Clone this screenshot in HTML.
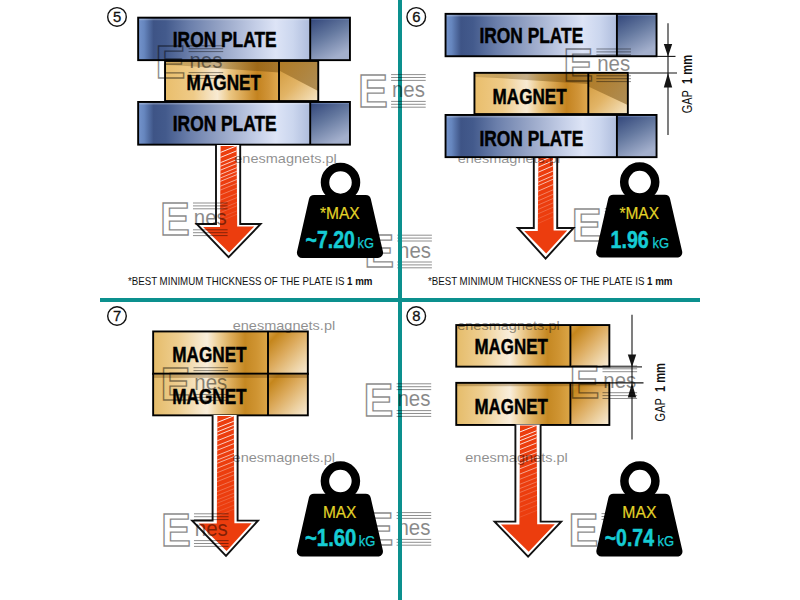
<!DOCTYPE html>
<html lang="en"><head><meta charset="utf-8"><title>Magnet pull force – iron plate and gap comparison</title>
<style>
html,body{margin:0;padding:0;background:#fff}
body{width:800px;height:600px;overflow:hidden}
svg{display:block;font-family:"Liberation Sans",sans-serif}
</style></head>
<body>
<svg width="800" height="600" viewBox="0 0 800 600">
<rect width="800" height="600" fill="#fff"/>

<defs>
<linearGradient id="ironG" x1="0" y1="0" x2="1" y2="0">
 <stop offset="0" stop-color="#7594cc"/>
 <stop offset="0.035" stop-color="#6686be"/>
 <stop offset="0.09" stop-color="#3e5486"/>
 <stop offset="0.16" stop-color="#435a8c"/>
 <stop offset="0.30" stop-color="#6b7fab"/>
 <stop offset="0.50" stop-color="#9aa8c9"/>
 <stop offset="0.68" stop-color="#c3cde6"/>
 <stop offset="0.80" stop-color="#dde4f6"/>
 <stop offset="0.90" stop-color="#cbd6ee"/>
 <stop offset="1" stop-color="#aebcdc"/>
</linearGradient>
<linearGradient id="ironS" x1="0" y1="0" x2="0.5" y2="1">
 <stop offset="0" stop-color="#2f4378"/>
 <stop offset="0.5" stop-color="#64789f"/>
 <stop offset="1" stop-color="#a3afcc"/>
</linearGradient>
<linearGradient id="goldG" x1="0" y1="0" x2="1" y2="0">
 <stop offset="0" stop-color="#e9be6c"/>
 <stop offset="0.25" stop-color="#efcb88"/>
 <stop offset="0.40" stop-color="#f5e2c0"/>
 <stop offset="0.46" stop-color="#f8ead2"/>
 <stop offset="0.57" stop-color="#ebc682"/>
 <stop offset="0.69" stop-color="#d9a550"/>
 <stop offset="0.81" stop-color="#c4831f"/>
 <stop offset="0.91" stop-color="#d09438"/>
 <stop offset="1" stop-color="#e0aa50"/>
</linearGradient>
<linearGradient id="goldS" x1="0" y1="0" x2="1" y2="1">
 <stop offset="0" stop-color="#cf9636"/>
 <stop offset="0.5" stop-color="#e2b466"/>
 <stop offset="1" stop-color="#f6e6c6"/>
</linearGradient>
<linearGradient id="gold2" x1="0" y1="0" x2="1" y2="0">
 <stop offset="0" stop-color="#e5bc6a"/>
 <stop offset="0.22" stop-color="#eece90"/>
 <stop offset="0.40" stop-color="#f6e6c8"/>
 <stop offset="0.47" stop-color="#f9eedb"/>
 <stop offset="0.56" stop-color="#efd29c"/>
 <stop offset="0.68" stop-color="#dcab58"/>
 <stop offset="0.80" stop-color="#c58822"/>
 <stop offset="0.90" stop-color="#cf9432"/>
 <stop offset="1" stop-color="#dca648"/>
</linearGradient>
<linearGradient id="gold2S" x1="0" y1="0" x2="1" y2="1">
 <stop offset="0" stop-color="#d8a24a"/>
 <stop offset="0.15" stop-color="#c5861c"/>
 <stop offset="0.45" stop-color="#dcaa5c"/>
 <stop offset="0.75" stop-color="#ecd0a0"/>
 <stop offset="1" stop-color="#f8ecd8"/>
</linearGradient>
<linearGradient id="shade" x1="0" y1="0" x2="1" y2="0">
 <stop offset="0" stop-color="#6a4a10" stop-opacity="0.18"/>
 <stop offset="0.2" stop-color="#6a4a10" stop-opacity="0.30"/>
 <stop offset="1" stop-color="#7a5010" stop-opacity="0.55"/>
</linearGradient>
<linearGradient id="shadeS" x1="0" y1="0" x2="1" y2="0.6">
 <stop offset="0" stop-color="#b07a24" stop-opacity="0.95"/>
 <stop offset="1" stop-color="#a88448" stop-opacity="0.9"/>
</linearGradient>
</defs>

<path d="M533.80,155.00 L533.80,228.00 L517.80,228.00 L545.60,258.60 L573.60,228.00 L557.20,228.00 L557.20,155.00" fill="#fff" stroke="#111" stroke-width="1.9" stroke-linejoin="miter"/><clipPath id="a6"><path d="M538.40,156.00 L537.80,231.00 L524.20,231.00 L546.20,253.52 L567.20,230.60 L553.60,230.60 L553.00,156.00Z"/></clipPath><path d="M538.40,156.00 L537.80,231.00 L524.20,231.00 L546.20,253.52 L567.20,230.60 L553.60,230.60 L553.00,156.00Z" fill="#ec3d0e"/><g clip-path="url(#a6)"><line x1="536.4" y1="163.2" x2="555.6" y2="154.8" stroke="#fff" stroke-opacity="0.90" stroke-width="1.0"/><line x1="536.4" y1="168.0" x2="555.6" y2="159.6" stroke="#fff" stroke-opacity="0.85" stroke-width="1.0"/><line x1="536.4" y1="173.0" x2="555.6" y2="164.6" stroke="#fff" stroke-opacity="0.79" stroke-width="1.0"/><line x1="536.4" y1="178.3" x2="555.6" y2="169.9" stroke="#fff" stroke-opacity="0.73" stroke-width="1.0"/><line x1="536.4" y1="182.9" x2="555.6" y2="174.5" stroke="#fff" stroke-opacity="0.67" stroke-width="1.0"/><line x1="536.4" y1="186.5" x2="555.6" y2="178.1" stroke="#fff" stroke-opacity="0.63" stroke-width="1.0"/><line x1="536.4" y1="191.9" x2="555.6" y2="183.5" stroke="#fff" stroke-opacity="0.57" stroke-width="1.0"/><line x1="536.4" y1="197.1" x2="555.6" y2="188.7" stroke="#fff" stroke-opacity="0.51" stroke-width="0.7"/><line x1="536.4" y1="201.6" x2="555.6" y2="193.2" stroke="#fff" stroke-opacity="0.46" stroke-width="0.7"/><line x1="536.4" y1="205.8" x2="555.6" y2="197.4" stroke="#fff" stroke-opacity="0.41" stroke-width="0.7"/><line x1="536.4" y1="210.2" x2="555.6" y2="201.8" stroke="#fff" stroke-opacity="0.36" stroke-width="0.7"/><line x1="536.4" y1="214.5" x2="555.6" y2="206.1" stroke="#fff" stroke-opacity="0.31" stroke-width="0.7"/><line x1="536.4" y1="219.4" x2="555.6" y2="211.0" stroke="#fff" stroke-opacity="0.25" stroke-width="0.7"/><line x1="536.4" y1="224.2" x2="555.6" y2="215.8" stroke="#fff" stroke-opacity="0.19" stroke-width="0.7"/></g>
<text x="457.70" y="162.80" class="wm" font-size="12.6" textLength="102.5" lengthAdjust="spacingAndGlyphs" fill="#000" opacity="0.44">enesmagnets.pl</text>
<rect x="165.05" y="60.95" width="113.95" height="40.10" fill="url(#goldG)"/><rect x="279.00" y="60.95" width="39.25" height="40.10" fill="url(#goldS)"/><path d="M165.2,61 L279,61 L279,72.5 L187,66 L165.2,65 Z" fill="url(#shade)"/><path d="M279,61 L318.1,61 L318.1,91 L279,70.5 Z" fill="url(#shadeS)"/><rect x="165.05" y="60.95" width="153.20" height="40.10" fill="none" stroke="#000" stroke-width="1.9"/><line x1="279.00" y1="60.95" x2="279.00" y2="101.05" stroke="#000" stroke-width="1.9"/>
<rect x="138.15" y="17.65" width="172.05" height="42.50" fill="url(#ironG)"/><rect x="310.20" y="17.65" width="39.75" height="42.50" fill="url(#ironS)"/><rect x="139.10" y="18.60" width="170.15" height="1.6" fill="#fff" fill-opacity="0.26"/><rect x="311.15" y="18.60" width="37.85" height="1.2" fill="#9fb6e6" fill-opacity="0.35"/><rect x="138.15" y="17.65" width="211.80" height="42.50" fill="none" stroke="#000" stroke-width="1.9"/><line x1="310.20" y1="17.65" x2="310.20" y2="60.15" stroke="#000" stroke-width="1.9"/>
<rect x="138.15" y="101.95" width="172.05" height="42.70" fill="url(#ironG)"/><rect x="310.20" y="101.95" width="39.75" height="42.70" fill="url(#ironS)"/><rect x="139.10" y="102.90" width="170.15" height="1.6" fill="#fff" fill-opacity="0.26"/><rect x="311.15" y="102.90" width="37.85" height="1.2" fill="#9fb6e6" fill-opacity="0.35"/><rect x="138.15" y="101.95" width="211.80" height="42.70" fill="none" stroke="#000" stroke-width="1.9"/><line x1="310.20" y1="101.95" x2="310.20" y2="144.65" stroke="#000" stroke-width="1.9"/>
<text x="172.80" y="46.90" font-size="21.2" font-weight="700" textLength="103.80" lengthAdjust="spacingAndGlyphs" fill="#000" stroke="#000" stroke-width="0.45">IRON PLATE</text>
<text x="186.60" y="90.00" font-size="21.2" font-weight="700" textLength="74.40" lengthAdjust="spacingAndGlyphs" fill="#000" stroke="#000" stroke-width="0.45">MAGNET</text>
<text x="172.80" y="131.00" font-size="21.2" font-weight="700" textLength="103.80" lengthAdjust="spacingAndGlyphs" fill="#000" stroke="#000" stroke-width="0.45">IRON PLATE</text>
<path d="M216.00,145.00 L216.00,224.00 L196.70,224.00 L228.60,257.20 L260.60,224.00 L240.20,224.00 L240.20,145.00" fill="#fff" stroke="#111" stroke-width="1.9" stroke-linejoin="miter"/><clipPath id="a5"><path d="M220.60,146.00 L220.00,227.00 L203.10,227.00 L229.20,252.48 L254.20,226.60 L237.20,226.60 L236.60,146.00Z"/></clipPath><path d="M220.60,146.00 L220.00,227.00 L203.10,227.00 L229.20,252.48 L254.20,226.60 L237.20,226.60 L236.60,146.00Z" fill="#ec3d0e"/><g clip-path="url(#a5)"><line x1="218.6" y1="153.2" x2="239.2" y2="144.8" stroke="#fff" stroke-opacity="0.91" stroke-width="1.0"/><line x1="218.6" y1="158.2" x2="239.2" y2="149.8" stroke="#fff" stroke-opacity="0.85" stroke-width="1.0"/><line x1="218.6" y1="163.4" x2="239.2" y2="155.0" stroke="#fff" stroke-opacity="0.80" stroke-width="1.0"/><line x1="218.6" y1="167.0" x2="239.2" y2="158.6" stroke="#fff" stroke-opacity="0.76" stroke-width="1.0"/><line x1="218.6" y1="170.9" x2="239.2" y2="162.5" stroke="#fff" stroke-opacity="0.72" stroke-width="1.0"/><line x1="218.6" y1="175.1" x2="239.2" y2="166.7" stroke="#fff" stroke-opacity="0.67" stroke-width="1.0"/><line x1="218.6" y1="178.7" x2="239.2" y2="170.3" stroke="#fff" stroke-opacity="0.63" stroke-width="1.0"/><line x1="218.6" y1="182.1" x2="239.2" y2="173.7" stroke="#fff" stroke-opacity="0.60" stroke-width="1.0"/><line x1="218.6" y1="186.9" x2="239.2" y2="178.5" stroke="#fff" stroke-opacity="0.54" stroke-width="1.0"/><line x1="218.6" y1="190.8" x2="239.2" y2="182.4" stroke="#fff" stroke-opacity="0.50" stroke-width="0.7"/><line x1="218.6" y1="195.7" x2="239.2" y2="187.3" stroke="#fff" stroke-opacity="0.45" stroke-width="0.7"/><line x1="218.6" y1="200.9" x2="239.2" y2="192.5" stroke="#fff" stroke-opacity="0.39" stroke-width="0.7"/><line x1="218.6" y1="205.1" x2="239.2" y2="196.7" stroke="#fff" stroke-opacity="0.35" stroke-width="0.7"/><line x1="218.6" y1="209.9" x2="239.2" y2="201.5" stroke="#fff" stroke-opacity="0.30" stroke-width="0.7"/><line x1="218.6" y1="213.3" x2="239.2" y2="204.9" stroke="#fff" stroke-opacity="0.26" stroke-width="0.7"/><line x1="218.6" y1="218.3" x2="239.2" y2="209.9" stroke="#fff" stroke-opacity="0.21" stroke-width="0.7"/><line x1="218.6" y1="221.8" x2="239.2" y2="213.4" stroke="#fff" stroke-opacity="0.18" stroke-width="0.7"/></g>
<text x="127.90" y="285.10" font-size="11" textLength="244.6" lengthAdjust="spacingAndGlyphs" fill="#111">*BEST MINIMUM THICKNESS OF THE PLATE IS <tspan font-weight="700">1 mm</tspan></text>
<circle cx="117.0" cy="16.9" r="9.3" fill="#fff" stroke="#111" stroke-width="1.4"/><text x="117.0" y="22.25" font-size="14.8" text-anchor="middle" fill="#111" stroke="#111" stroke-width="0.3">5</text>
<rect x="474.45" y="72.85" width="113.85" height="41.20" fill="url(#goldG)"/><rect x="588.30" y="72.85" width="39.55" height="41.20" fill="url(#goldS)"/><path d="M474.6,73 L588.3,73 L588.3,84 L497,78 L474.6,77 Z" fill="url(#shade)"/><path d="M588.3,73 L627.7,73 L627.7,105 L588.3,86.5 Z" fill="url(#shadeS)"/><rect x="474.45" y="72.85" width="153.40" height="41.20" fill="none" stroke="#000" stroke-width="1.9"/><line x1="588.30" y1="72.85" x2="588.30" y2="114.05" stroke="#000" stroke-width="1.9"/>
<rect x="445.55" y="13.85" width="171.35" height="42.40" fill="url(#ironG)"/><rect x="616.90" y="13.85" width="39.65" height="42.40" fill="url(#ironS)"/><rect x="446.50" y="14.80" width="169.45" height="1.6" fill="#fff" fill-opacity="0.26"/><rect x="617.85" y="14.80" width="37.75" height="1.2" fill="#9fb6e6" fill-opacity="0.35"/><rect x="445.55" y="13.85" width="211.00" height="42.40" fill="none" stroke="#000" stroke-width="1.9"/><line x1="616.90" y1="13.85" x2="616.90" y2="56.25" stroke="#000" stroke-width="1.9"/>
<rect x="445.55" y="114.95" width="171.35" height="42.20" fill="url(#ironG)"/><rect x="616.90" y="114.95" width="39.65" height="42.20" fill="url(#ironS)"/><rect x="446.50" y="115.90" width="169.45" height="1.6" fill="#fff" fill-opacity="0.26"/><rect x="617.85" y="115.90" width="37.75" height="1.2" fill="#9fb6e6" fill-opacity="0.35"/><rect x="445.55" y="114.95" width="211.00" height="42.20" fill="none" stroke="#000" stroke-width="1.9"/><line x1="616.90" y1="114.95" x2="616.90" y2="157.15" stroke="#000" stroke-width="1.9"/>
<text x="479.50" y="43.10" font-size="21.2" font-weight="700" textLength="103.70" lengthAdjust="spacingAndGlyphs" fill="#000" stroke="#000" stroke-width="0.45">IRON PLATE</text>
<text x="492.60" y="103.50" font-size="21.2" font-weight="700" textLength="74.00" lengthAdjust="spacingAndGlyphs" fill="#000" stroke="#000" stroke-width="0.45">MAGNET</text>
<text x="479.50" y="145.90" font-size="21.2" font-weight="700" textLength="103.70" lengthAdjust="spacingAndGlyphs" fill="#000" stroke="#000" stroke-width="0.45">IRON PLATE</text>
<line x1="668" y1="23.3" x2="668" y2="135" stroke="#151515" stroke-width="1.1"/><line x1="657" y1="56.4" x2="675.5" y2="56.4" stroke="#151515" stroke-width="1.1"/><line x1="629" y1="73" x2="677.0" y2="73" stroke="#151515" stroke-width="1.1"/><path d="M663.8,43.9 L672.2,43.9 L668,56.4 Z" fill="#151515"/><path d="M663.8,87.5 L672.2,87.5 L668,73 Z" fill="#151515"/><g transform="translate(692.0,113.3) rotate(-90)" font-size="14.4" fill="#111"><text x="0" y="0" textLength="23.2" lengthAdjust="spacingAndGlyphs">GAP</text><text x="29.3" y="0" font-weight="700" textLength="29" lengthAdjust="spacingAndGlyphs">1 mm</text></g>
<rect x="153.15" y="331.45" width="114.85" height="42.50" fill="url(#gold2)"/><rect x="268.00" y="331.45" width="39.85" height="42.50" fill="url(#gold2S)"/><rect x="153.15" y="331.45" width="154.70" height="42.50" fill="none" stroke="#000" stroke-width="1.9"/><line x1="268.00" y1="331.45" x2="268.00" y2="373.95" stroke="#000" stroke-width="1.9"/>
<rect x="153.15" y="373.65" width="114.85" height="41.70" fill="url(#gold2)"/><rect x="268.00" y="373.65" width="39.85" height="41.70" fill="url(#gold2S)"/><rect x="153.3" y="374.7" width="154.4" height="3.2" fill="#6a4208" fill-opacity="0.32"/><rect x="153.15" y="373.65" width="154.70" height="41.70" fill="none" stroke="#000" stroke-width="1.9"/><line x1="268.00" y1="373.65" x2="268.00" y2="415.35" stroke="#000" stroke-width="1.9"/>
<path d="M212.60,415.00 L212.60,520.60 L192.20,520.60 L226.00,555.90 L258.00,520.60 L237.60,520.60 L237.60,415.00" fill="#fff" stroke="#111" stroke-width="1.9" stroke-linejoin="miter"/><clipPath id="a7"><path d="M217.40,416.00 L216.80,523.60 L198.60,523.60 L226.60,550.91 L251.60,523.20 L234.40,523.20 L233.80,416.00Z"/></clipPath><path d="M217.40,416.00 L216.80,523.60 L198.60,523.60 L226.60,550.91 L251.60,523.20 L234.40,523.20 L233.80,416.00Z" fill="#ec3d0e"/><g clip-path="url(#a7)"><line x1="215.4" y1="423.2" x2="236.4" y2="414.8" stroke="#fff" stroke-opacity="0.92" stroke-width="1.0"/><line x1="215.4" y1="428.6" x2="236.4" y2="420.2" stroke="#fff" stroke-opacity="0.87" stroke-width="1.0"/><line x1="215.4" y1="432.6" x2="236.4" y2="424.2" stroke="#fff" stroke-opacity="0.84" stroke-width="1.0"/><line x1="215.4" y1="436.1" x2="236.4" y2="427.7" stroke="#fff" stroke-opacity="0.81" stroke-width="1.0"/><line x1="215.4" y1="441.5" x2="236.4" y2="433.1" stroke="#fff" stroke-opacity="0.77" stroke-width="1.0"/><line x1="215.4" y1="446.4" x2="236.4" y2="438.0" stroke="#fff" stroke-opacity="0.73" stroke-width="1.0"/><line x1="215.4" y1="451.0" x2="236.4" y2="442.6" stroke="#fff" stroke-opacity="0.69" stroke-width="1.0"/><line x1="215.4" y1="456.2" x2="236.4" y2="447.8" stroke="#fff" stroke-opacity="0.65" stroke-width="1.0"/><line x1="215.4" y1="460.8" x2="236.4" y2="452.4" stroke="#fff" stroke-opacity="0.62" stroke-width="1.0"/><line x1="215.4" y1="464.0" x2="236.4" y2="455.6" stroke="#fff" stroke-opacity="0.59" stroke-width="1.0"/><line x1="215.4" y1="468.9" x2="236.4" y2="460.5" stroke="#fff" stroke-opacity="0.55" stroke-width="1.0"/><line x1="215.4" y1="473.4" x2="236.4" y2="465.0" stroke="#fff" stroke-opacity="0.51" stroke-width="0.7"/><line x1="215.4" y1="478.5" x2="236.4" y2="470.1" stroke="#fff" stroke-opacity="0.47" stroke-width="0.7"/><line x1="215.4" y1="482.3" x2="236.4" y2="473.9" stroke="#fff" stroke-opacity="0.44" stroke-width="0.7"/><line x1="215.4" y1="487.6" x2="236.4" y2="479.2" stroke="#fff" stroke-opacity="0.40" stroke-width="0.7"/><line x1="215.4" y1="492.4" x2="236.4" y2="484.0" stroke="#fff" stroke-opacity="0.36" stroke-width="0.7"/><line x1="215.4" y1="496.2" x2="236.4" y2="487.8" stroke="#fff" stroke-opacity="0.33" stroke-width="0.7"/><line x1="215.4" y1="500.6" x2="236.4" y2="492.2" stroke="#fff" stroke-opacity="0.29" stroke-width="0.7"/><line x1="215.4" y1="503.9" x2="236.4" y2="495.5" stroke="#fff" stroke-opacity="0.27" stroke-width="0.7"/><line x1="215.4" y1="507.8" x2="236.4" y2="499.4" stroke="#fff" stroke-opacity="0.24" stroke-width="0.7"/><line x1="215.4" y1="512.6" x2="236.4" y2="504.2" stroke="#fff" stroke-opacity="0.20" stroke-width="0.7"/><line x1="215.4" y1="516.6" x2="236.4" y2="508.2" stroke="#fff" stroke-opacity="0.18" stroke-width="0.7"/></g>
<circle cx="117.0" cy="316.0" r="9.3" fill="#fff" stroke="#111" stroke-width="1.4"/><text x="117.0" y="321.35" font-size="14.8" text-anchor="middle" fill="#111" stroke="#111" stroke-width="0.3">7</text>
<rect x="456.25" y="325.05" width="114.15" height="41.60" fill="url(#gold2)"/><rect x="570.40" y="325.05" width="38.95" height="41.60" fill="url(#gold2S)"/><rect x="456.25" y="325.05" width="153.10" height="41.60" fill="none" stroke="#000" stroke-width="1.9"/><line x1="570.40" y1="325.05" x2="570.40" y2="366.65" stroke="#000" stroke-width="1.9"/>
<rect x="456.25" y="382.85" width="114.15" height="42.10" fill="url(#gold2)"/><rect x="570.40" y="382.85" width="38.95" height="42.10" fill="url(#gold2S)"/><rect x="456.4" y="383" width="152.8" height="3.2" fill="#6a4208" fill-opacity="0.32"/><rect x="456.25" y="382.85" width="153.10" height="42.10" fill="none" stroke="#000" stroke-width="1.9"/><line x1="570.40" y1="382.85" x2="570.40" y2="424.95" stroke="#000" stroke-width="1.9"/>
<path d="M515.40,424.50 L515.40,521.60 L494.60,521.60 L528.10,556.60 L561.20,521.60 L540.60,521.60 L540.60,424.50" fill="#fff" stroke="#111" stroke-width="1.9" stroke-linejoin="miter"/><clipPath id="a8"><path d="M520.00,425.50 L519.40,524.60 L501.00,524.60 L528.70,551.77 L554.80,524.20 L537.20,524.20 L536.60,425.50Z"/></clipPath><path d="M520.00,425.50 L519.40,524.60 L501.00,524.60 L528.70,551.77 L554.80,524.20 L537.20,524.20 L536.60,425.50Z" fill="#ec3d0e"/><g clip-path="url(#a8)"><line x1="518.0" y1="432.7" x2="539.2" y2="424.3" stroke="#fff" stroke-opacity="0.91" stroke-width="1.0"/><line x1="518.0" y1="438.1" x2="539.2" y2="429.7" stroke="#fff" stroke-opacity="0.87" stroke-width="1.0"/><line x1="518.0" y1="441.5" x2="539.2" y2="433.1" stroke="#fff" stroke-opacity="0.84" stroke-width="1.0"/><line x1="518.0" y1="445.2" x2="539.2" y2="436.8" stroke="#fff" stroke-opacity="0.81" stroke-width="1.0"/><line x1="518.0" y1="450.3" x2="539.2" y2="441.9" stroke="#fff" stroke-opacity="0.76" stroke-width="1.0"/><line x1="518.0" y1="455.5" x2="539.2" y2="447.1" stroke="#fff" stroke-opacity="0.72" stroke-width="1.0"/><line x1="518.0" y1="459.9" x2="539.2" y2="451.5" stroke="#fff" stroke-opacity="0.68" stroke-width="1.0"/><line x1="518.0" y1="464.4" x2="539.2" y2="456.0" stroke="#fff" stroke-opacity="0.64" stroke-width="1.0"/><line x1="518.0" y1="469.5" x2="539.2" y2="461.1" stroke="#fff" stroke-opacity="0.59" stroke-width="1.0"/><line x1="518.0" y1="474.8" x2="539.2" y2="466.4" stroke="#fff" stroke-opacity="0.55" stroke-width="1.0"/><line x1="518.0" y1="480.0" x2="539.2" y2="471.6" stroke="#fff" stroke-opacity="0.50" stroke-width="0.7"/><line x1="518.0" y1="485.0" x2="539.2" y2="476.6" stroke="#fff" stroke-opacity="0.46" stroke-width="0.7"/><line x1="518.0" y1="489.3" x2="539.2" y2="480.9" stroke="#fff" stroke-opacity="0.42" stroke-width="0.7"/><line x1="518.0" y1="493.2" x2="539.2" y2="484.8" stroke="#fff" stroke-opacity="0.39" stroke-width="0.7"/><line x1="518.0" y1="497.8" x2="539.2" y2="489.4" stroke="#fff" stroke-opacity="0.34" stroke-width="0.7"/><line x1="518.0" y1="503.0" x2="539.2" y2="494.6" stroke="#fff" stroke-opacity="0.30" stroke-width="0.7"/><line x1="518.0" y1="507.9" x2="539.2" y2="499.5" stroke="#fff" stroke-opacity="0.26" stroke-width="0.7"/><line x1="518.0" y1="512.9" x2="539.2" y2="504.5" stroke="#fff" stroke-opacity="0.21" stroke-width="0.7"/><line x1="518.0" y1="517.9" x2="539.2" y2="509.5" stroke="#fff" stroke-opacity="0.18" stroke-width="0.7"/></g>
<line x1="632" y1="314.7" x2="632" y2="439.4" stroke="#151515" stroke-width="1.1"/><line x1="610" y1="366.9" x2="642" y2="366.9" stroke="#151515" stroke-width="1.1"/><line x1="610" y1="382.9" x2="643.5" y2="382.9" stroke="#151515" stroke-width="1.1"/><path d="M627.8,354.4 L636.2,354.4 L632,366.9 Z" fill="#151515"/><path d="M627.8,397.4 L636.2,397.4 L632,382.9 Z" fill="#151515"/><g transform="translate(664.9,421.4) rotate(-90)" font-size="14.4" fill="#111"><text x="0" y="0" textLength="23.2" lengthAdjust="spacingAndGlyphs">GAP</text><text x="29.3" y="0" font-weight="700" textLength="29" lengthAdjust="spacingAndGlyphs">1 mm</text></g>
<circle cx="416.25" cy="316.0" r="9.3" fill="#fff" stroke="#111" stroke-width="1.4"/><text x="416.25" y="321.35" font-size="14.8" text-anchor="middle" fill="#111" stroke="#111" stroke-width="0.3">8</text>
<g transform="translate(366.50,234.80)" opacity="0.46"><text x="-2.3" y="32.6" font-size="46.6" font-weight="700" fill="none" stroke="#000" stroke-width="1.4" textLength="29.85" lengthAdjust="spacingAndGlyphs">E</text><line x1="30.8" y1="0.4" x2="65.4" y2="0.4" stroke="#000" stroke-width="0.95"/><line x1="30.8" y1="3.3" x2="65.4" y2="3.3" stroke="#000" stroke-width="0.95"/><line x1="30.8" y1="6.2" x2="65.4" y2="6.2" stroke="#000" stroke-width="0.95"/><line x1="30.8" y1="27.2" x2="65.4" y2="27.2" stroke="#000" stroke-width="0.95"/><line x1="30.8" y1="30.1" x2="65.4" y2="30.1" stroke="#000" stroke-width="0.95"/><line x1="30.8" y1="33.0" x2="65.4" y2="33.0" stroke="#000" stroke-width="0.95"/><text x="31.6" y="22.9" font-size="22.5" textLength="33" lengthAdjust="spacingAndGlyphs" fill="#000">nes</text></g>
<g transform="translate(574.00,208.20)" opacity="0.46"><text x="-2.3" y="32.6" font-size="46.6" font-weight="700" fill="none" stroke="#000" stroke-width="1.4" textLength="29.85" lengthAdjust="spacingAndGlyphs">E</text><line x1="30.8" y1="0.4" x2="65.4" y2="0.4" stroke="#000" stroke-width="0.95"/><line x1="30.8" y1="3.3" x2="65.4" y2="3.3" stroke="#000" stroke-width="0.95"/><line x1="30.8" y1="6.2" x2="65.4" y2="6.2" stroke="#000" stroke-width="0.95"/><line x1="30.8" y1="27.2" x2="65.4" y2="27.2" stroke="#000" stroke-width="0.95"/><line x1="30.8" y1="30.1" x2="65.4" y2="30.1" stroke="#000" stroke-width="0.95"/><line x1="30.8" y1="33.0" x2="65.4" y2="33.0" stroke="#000" stroke-width="0.95"/><text x="31.6" y="22.9" font-size="22.5" textLength="33" lengthAdjust="spacingAndGlyphs" fill="#000">nes</text></g>
<g transform="translate(365.80,512.20)" opacity="0.46"><text x="-2.3" y="32.6" font-size="46.6" font-weight="700" fill="none" stroke="#000" stroke-width="1.4" textLength="29.85" lengthAdjust="spacingAndGlyphs">E</text><line x1="30.8" y1="0.4" x2="65.4" y2="0.4" stroke="#000" stroke-width="0.95"/><line x1="30.8" y1="3.3" x2="65.4" y2="3.3" stroke="#000" stroke-width="0.95"/><line x1="30.8" y1="6.2" x2="65.4" y2="6.2" stroke="#000" stroke-width="0.95"/><line x1="30.8" y1="27.2" x2="65.4" y2="27.2" stroke="#000" stroke-width="0.95"/><line x1="30.8" y1="30.1" x2="65.4" y2="30.1" stroke="#000" stroke-width="0.95"/><line x1="30.8" y1="33.0" x2="65.4" y2="33.0" stroke="#000" stroke-width="0.95"/><text x="31.6" y="22.9" font-size="22.5" textLength="33" lengthAdjust="spacingAndGlyphs" fill="#000">nes</text></g>
<g transform="translate(570.70,513.20)" opacity="0.46"><text x="-2.3" y="32.6" font-size="46.6" font-weight="700" fill="none" stroke="#000" stroke-width="1.4" textLength="29.85" lengthAdjust="spacingAndGlyphs">E</text><line x1="30.8" y1="0.4" x2="65.4" y2="0.4" stroke="#000" stroke-width="0.95"/><line x1="30.8" y1="3.3" x2="65.4" y2="3.3" stroke="#000" stroke-width="0.95"/><line x1="30.8" y1="6.2" x2="65.4" y2="6.2" stroke="#000" stroke-width="0.95"/><line x1="30.8" y1="27.2" x2="65.4" y2="27.2" stroke="#000" stroke-width="0.95"/><line x1="30.8" y1="30.1" x2="65.4" y2="30.1" stroke="#000" stroke-width="0.95"/><line x1="30.8" y1="33.0" x2="65.4" y2="33.0" stroke="#000" stroke-width="0.95"/><text x="31.6" y="22.9" font-size="22.5" textLength="33" lengthAdjust="spacingAndGlyphs" fill="#000">nes</text></g>
<path d="M314.05,200.20 L365.76,200.20 L377.86,252.70 L302.11,252.70Z" fill="#000" stroke="#000" stroke-width="10.4" stroke-linejoin="round"/><circle cx="340.50" cy="182.40" r="15.5" fill="none" stroke="#000" stroke-width="8.5"/>
<text x="320.00" y="219.10" font-size="16.9" textLength="39.75" lengthAdjust="spacingAndGlyphs" fill="#e2d328" stroke="#e2d328" stroke-width="0.2">*MAX</text><text x="305.60" y="247.50" font-size="23.8" font-weight="700" textLength="49.20" lengthAdjust="spacingAndGlyphs" fill="#16ccd4" stroke="#16ccd4" stroke-width="0.5">~7.20</text><text x="357.60" y="247.50" font-size="14.8" textLength="16.40" lengthAdjust="spacingAndGlyphs" fill="#16ccd4" stroke="#16ccd4" stroke-width="0.25">kG</text>
<path d="M613.25,199.90 L664.96,199.90 L677.06,252.40 L601.31,252.40Z" fill="#000" stroke="#000" stroke-width="10.4" stroke-linejoin="round"/><circle cx="639.70" cy="182.10" r="15.5" fill="none" stroke="#000" stroke-width="8.5"/>
<text x="619.40" y="219.10" font-size="16.9" textLength="39.60" lengthAdjust="spacingAndGlyphs" fill="#e2d328" stroke="#e2d328" stroke-width="0.2">*MAX</text><text x="610.60" y="247.50" font-size="23.8" font-weight="700" textLength="38.20" lengthAdjust="spacingAndGlyphs" fill="#16ccd4" stroke="#16ccd4" stroke-width="0.5">1.96</text><text x="652.40" y="247.50" font-size="14.8" textLength="16.60" lengthAdjust="spacingAndGlyphs" fill="#16ccd4" stroke="#16ccd4" stroke-width="0.25">kG</text>
<path d="M313.95,498.90 L365.66,498.90 L377.76,551.40 L302.01,551.40Z" fill="#000" stroke="#000" stroke-width="10.4" stroke-linejoin="round"/><circle cx="340.40" cy="481.10" r="15.5" fill="none" stroke="#000" stroke-width="8.5"/>
<text x="322.90" y="517.75" font-size="16.9" textLength="33.50" lengthAdjust="spacingAndGlyphs" fill="#e2d328" stroke="#e2d328" stroke-width="0.2">MAX</text><text x="305.00" y="546.25" font-size="23.8" font-weight="700" textLength="51.40" lengthAdjust="spacingAndGlyphs" fill="#16ccd4" stroke="#16ccd4" stroke-width="0.5">~1.60</text><text x="358.80" y="546.25" font-size="14.8" textLength="16.60" lengthAdjust="spacingAndGlyphs" fill="#16ccd4" stroke="#16ccd4" stroke-width="0.25">kG</text>
<path d="M613.45,498.90 L665.16,498.90 L677.26,551.40 L601.51,551.40Z" fill="#000" stroke="#000" stroke-width="10.4" stroke-linejoin="round"/><circle cx="639.90" cy="481.10" r="15.5" fill="none" stroke="#000" stroke-width="8.5"/>
<text x="622.30" y="517.75" font-size="16.9" textLength="34.10" lengthAdjust="spacingAndGlyphs" fill="#e2d328" stroke="#e2d328" stroke-width="0.2">MAX</text><text x="604.75" y="546.25" font-size="23.8" font-weight="700" textLength="49.25" lengthAdjust="spacingAndGlyphs" fill="#16ccd4" stroke="#16ccd4" stroke-width="0.5">~0.74</text><text x="657.60" y="546.25" font-size="14.8" textLength="16.60" lengthAdjust="spacingAndGlyphs" fill="#16ccd4" stroke="#16ccd4" stroke-width="0.25">kG</text>
<text x="427.90" y="285.10" font-size="11" textLength="244.6" lengthAdjust="spacingAndGlyphs" fill="#111">*BEST MINIMUM THICKNESS OF THE PLATE IS <tspan font-weight="700">1 mm</tspan></text>
<circle cx="416.25" cy="16.9" r="9.3" fill="#fff" stroke="#111" stroke-width="1.4"/><text x="416.25" y="22.25" font-size="14.8" text-anchor="middle" fill="#111" stroke="#111" stroke-width="0.3">6</text>
<rect x="100" y="298" width="600" height="4" fill="#0c908e"/><rect x="398" y="0" width="4" height="600" fill="#0c908e"/>
<g transform="translate(157.80,45.40)" opacity="0.46"><text x="-2.3" y="32.6" font-size="46.6" font-weight="700" fill="none" stroke="#000" stroke-width="1.4" textLength="29.85" lengthAdjust="spacingAndGlyphs">E</text><line x1="30.8" y1="0.4" x2="65.4" y2="0.4" stroke="#000" stroke-width="0.95"/><line x1="30.8" y1="3.3" x2="65.4" y2="3.3" stroke="#000" stroke-width="0.95"/><line x1="30.8" y1="6.2" x2="65.4" y2="6.2" stroke="#000" stroke-width="0.95"/><line x1="30.8" y1="27.2" x2="65.4" y2="27.2" stroke="#000" stroke-width="0.95"/><line x1="30.8" y1="30.1" x2="65.4" y2="30.1" stroke="#000" stroke-width="0.95"/><line x1="30.8" y1="33.0" x2="65.4" y2="33.0" stroke="#000" stroke-width="0.95"/><text x="31.6" y="22.9" font-size="22.5" textLength="33" lengthAdjust="spacingAndGlyphs" fill="#000">nes</text></g>
<g transform="translate(360.30,74.20)" opacity="0.46"><text x="-2.3" y="32.6" font-size="46.6" font-weight="700" fill="none" stroke="#000" stroke-width="1.4" textLength="29.85" lengthAdjust="spacingAndGlyphs">E</text><line x1="30.8" y1="0.4" x2="65.4" y2="0.4" stroke="#000" stroke-width="0.95"/><line x1="30.8" y1="3.3" x2="65.4" y2="3.3" stroke="#000" stroke-width="0.95"/><line x1="30.8" y1="6.2" x2="65.4" y2="6.2" stroke="#000" stroke-width="0.95"/><line x1="30.8" y1="27.2" x2="65.4" y2="27.2" stroke="#000" stroke-width="0.95"/><line x1="30.8" y1="30.1" x2="65.4" y2="30.1" stroke="#000" stroke-width="0.95"/><line x1="30.8" y1="33.0" x2="65.4" y2="33.0" stroke="#000" stroke-width="0.95"/><text x="31.6" y="22.9" font-size="22.5" textLength="33" lengthAdjust="spacingAndGlyphs" fill="#000">nes</text></g>
<g transform="translate(565.60,48.60)" opacity="0.46"><text x="-2.3" y="32.6" font-size="46.6" font-weight="700" fill="none" stroke="#000" stroke-width="1.4" textLength="29.85" lengthAdjust="spacingAndGlyphs">E</text><line x1="30.8" y1="0.4" x2="65.4" y2="0.4" stroke="#000" stroke-width="0.95"/><line x1="30.8" y1="3.3" x2="65.4" y2="3.3" stroke="#000" stroke-width="0.95"/><line x1="30.8" y1="6.2" x2="65.4" y2="6.2" stroke="#000" stroke-width="0.95"/><line x1="30.8" y1="27.2" x2="65.4" y2="27.2" stroke="#000" stroke-width="0.95"/><line x1="30.8" y1="30.1" x2="65.4" y2="30.1" stroke="#000" stroke-width="0.95"/><line x1="30.8" y1="33.0" x2="65.4" y2="33.0" stroke="#000" stroke-width="0.95"/><text x="31.6" y="22.9" font-size="22.5" textLength="33" lengthAdjust="spacingAndGlyphs" fill="#000">nes</text></g>
<g transform="translate(162.20,202.60)" opacity="0.46"><text x="-2.3" y="32.6" font-size="46.6" font-weight="700" fill="none" stroke="#000" stroke-width="1.4" textLength="29.85" lengthAdjust="spacingAndGlyphs">E</text><line x1="30.8" y1="0.4" x2="65.4" y2="0.4" stroke="#000" stroke-width="0.95"/><line x1="30.8" y1="3.3" x2="65.4" y2="3.3" stroke="#000" stroke-width="0.95"/><line x1="30.8" y1="6.2" x2="65.4" y2="6.2" stroke="#000" stroke-width="0.95"/><line x1="30.8" y1="27.2" x2="65.4" y2="27.2" stroke="#000" stroke-width="0.95"/><line x1="30.8" y1="30.1" x2="65.4" y2="30.1" stroke="#000" stroke-width="0.95"/><line x1="30.8" y1="33.0" x2="65.4" y2="33.0" stroke="#000" stroke-width="0.95"/><text x="31.6" y="22.9" font-size="22.5" textLength="33" lengthAdjust="spacingAndGlyphs" fill="#000">nes</text></g>
<g transform="translate(162.70,367.30)" opacity="0.46"><text x="-2.3" y="32.6" font-size="46.6" font-weight="700" fill="none" stroke="#000" stroke-width="1.4" textLength="29.85" lengthAdjust="spacingAndGlyphs">E</text><line x1="30.8" y1="0.4" x2="65.4" y2="0.4" stroke="#000" stroke-width="0.95"/><line x1="30.8" y1="3.3" x2="65.4" y2="3.3" stroke="#000" stroke-width="0.95"/><line x1="30.8" y1="6.2" x2="65.4" y2="6.2" stroke="#000" stroke-width="0.95"/><line x1="30.8" y1="27.2" x2="65.4" y2="27.2" stroke="#000" stroke-width="0.95"/><line x1="30.8" y1="30.1" x2="65.4" y2="30.1" stroke="#000" stroke-width="0.95"/><line x1="30.8" y1="33.0" x2="65.4" y2="33.0" stroke="#000" stroke-width="0.95"/><text x="31.6" y="22.9" font-size="22.5" textLength="33" lengthAdjust="spacingAndGlyphs" fill="#000">nes</text></g>
<g transform="translate(365.80,383.40)" opacity="0.46"><text x="-2.3" y="32.6" font-size="46.6" font-weight="700" fill="none" stroke="#000" stroke-width="1.4" textLength="29.85" lengthAdjust="spacingAndGlyphs">E</text><line x1="30.8" y1="0.4" x2="65.4" y2="0.4" stroke="#000" stroke-width="0.95"/><line x1="30.8" y1="3.3" x2="65.4" y2="3.3" stroke="#000" stroke-width="0.95"/><line x1="30.8" y1="6.2" x2="65.4" y2="6.2" stroke="#000" stroke-width="0.95"/><line x1="30.8" y1="27.2" x2="65.4" y2="27.2" stroke="#000" stroke-width="0.95"/><line x1="30.8" y1="30.1" x2="65.4" y2="30.1" stroke="#000" stroke-width="0.95"/><line x1="30.8" y1="33.0" x2="65.4" y2="33.0" stroke="#000" stroke-width="0.95"/><text x="31.6" y="22.9" font-size="22.5" textLength="33" lengthAdjust="spacingAndGlyphs" fill="#000">nes</text></g>
<g transform="translate(571.70,365.50)" opacity="0.46"><text x="-2.3" y="32.6" font-size="46.6" font-weight="700" fill="none" stroke="#000" stroke-width="1.4" textLength="29.85" lengthAdjust="spacingAndGlyphs">E</text><line x1="30.8" y1="0.4" x2="65.4" y2="0.4" stroke="#000" stroke-width="0.95"/><line x1="30.8" y1="3.3" x2="65.4" y2="3.3" stroke="#000" stroke-width="0.95"/><line x1="30.8" y1="6.2" x2="65.4" y2="6.2" stroke="#000" stroke-width="0.95"/><line x1="30.8" y1="27.2" x2="65.4" y2="27.2" stroke="#000" stroke-width="0.95"/><line x1="30.8" y1="30.1" x2="65.4" y2="30.1" stroke="#000" stroke-width="0.95"/><line x1="30.8" y1="33.0" x2="65.4" y2="33.0" stroke="#000" stroke-width="0.95"/><text x="31.6" y="22.9" font-size="22.5" textLength="33" lengthAdjust="spacingAndGlyphs" fill="#000">nes</text></g>
<g transform="translate(163.20,513.40)" opacity="0.46"><text x="-2.3" y="32.6" font-size="46.6" font-weight="700" fill="none" stroke="#000" stroke-width="1.4" textLength="29.85" lengthAdjust="spacingAndGlyphs">E</text><line x1="30.8" y1="0.4" x2="65.4" y2="0.4" stroke="#000" stroke-width="0.95"/><line x1="30.8" y1="3.3" x2="65.4" y2="3.3" stroke="#000" stroke-width="0.95"/><line x1="30.8" y1="6.2" x2="65.4" y2="6.2" stroke="#000" stroke-width="0.95"/><line x1="30.8" y1="27.2" x2="65.4" y2="27.2" stroke="#000" stroke-width="0.95"/><line x1="30.8" y1="30.1" x2="65.4" y2="30.1" stroke="#000" stroke-width="0.95"/><line x1="30.8" y1="33.0" x2="65.4" y2="33.0" stroke="#000" stroke-width="0.95"/><text x="31.6" y="22.9" font-size="22.5" textLength="33" lengthAdjust="spacingAndGlyphs" fill="#000">nes</text></g>
<text x="234.30" y="162.80" class="wm" font-size="12.6" textLength="102.5" lengthAdjust="spacingAndGlyphs" fill="#000" opacity="0.44">enesmagnets.pl</text>
<text x="232.70" y="329.60" class="wm" font-size="12.6" textLength="102.5" lengthAdjust="spacingAndGlyphs" fill="#000" opacity="0.44">enesmagnets.pl</text>
<text x="457.20" y="330.00" class="wm" font-size="12.6" textLength="102.5" lengthAdjust="spacingAndGlyphs" fill="#000" opacity="0.44">enesmagnets.pl</text>
<text x="232.60" y="461.70" class="wm" font-size="12.6" textLength="102.5" lengthAdjust="spacingAndGlyphs" fill="#000" opacity="0.44">enesmagnets.pl</text>
<text x="465.30" y="462.00" class="wm" font-size="12.6" textLength="102.5" lengthAdjust="spacingAndGlyphs" fill="#000" opacity="0.44">enesmagnets.pl</text>
<text x="172.20" y="361.50" font-size="21.2" font-weight="700" textLength="74.40" lengthAdjust="spacingAndGlyphs" fill="#000" stroke="#000" stroke-width="0.45">MAGNET</text>
<text x="172.20" y="403.70" font-size="21.2" font-weight="700" textLength="74.40" lengthAdjust="spacingAndGlyphs" fill="#000" stroke="#000" stroke-width="0.45">MAGNET</text>
<text x="474.50" y="354.20" font-size="21.2" font-weight="700" textLength="73.30" lengthAdjust="spacingAndGlyphs" fill="#000" stroke="#000" stroke-width="0.45">MAGNET</text>
<text x="474.50" y="414.00" font-size="21.2" font-weight="700" textLength="73.30" lengthAdjust="spacingAndGlyphs" fill="#000" stroke="#000" stroke-width="0.45">MAGNET</text>

</svg>
</body></html>
